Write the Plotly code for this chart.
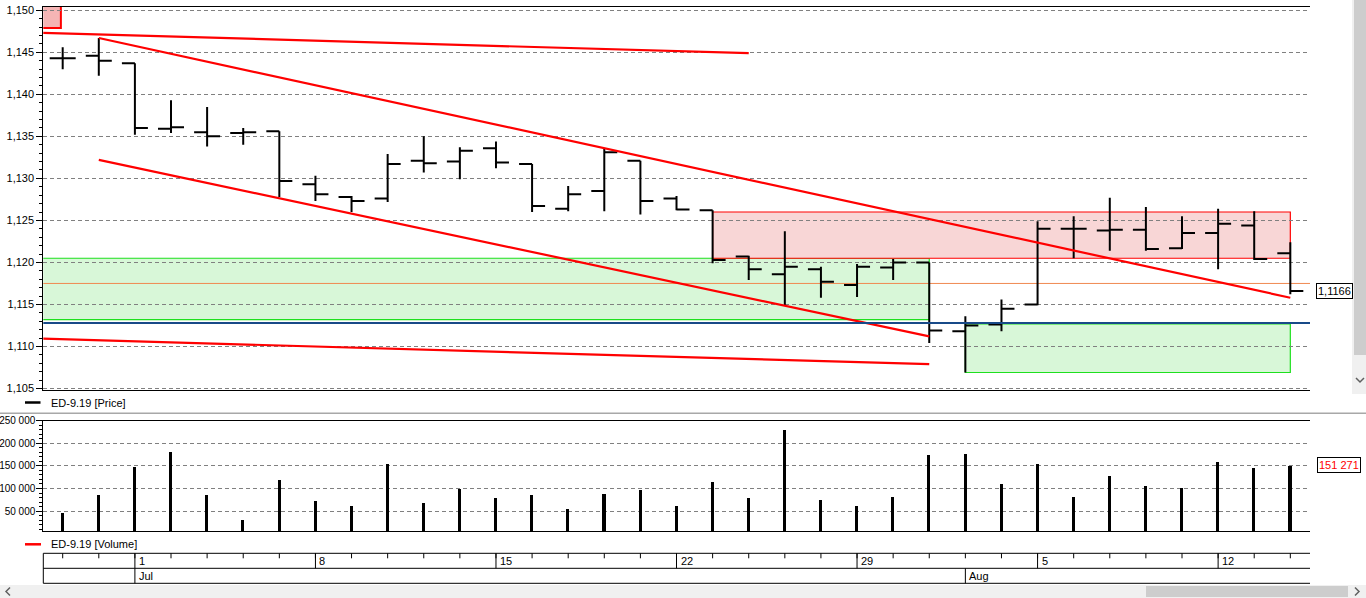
import datetime as dt
import plotly.graph_objects as go

# ---------------- data ----------------
dates = ["2019-06-27", "2019-06-28",
         "2019-07-01", "2019-07-02", "2019-07-03", "2019-07-04", "2019-07-05",
         "2019-07-08", "2019-07-09", "2019-07-10", "2019-07-11", "2019-07-12",
         "2019-07-15", "2019-07-16", "2019-07-17", "2019-07-18", "2019-07-19",
         "2019-07-22", "2019-07-23", "2019-07-24", "2019-07-25", "2019-07-26",
         "2019-07-29", "2019-07-30", "2019-07-31", "2019-08-01", "2019-08-02",
         "2019-08-05", "2019-08-06", "2019-08-07", "2019-08-08", "2019-08-09",
         "2019-08-12", "2019-08-13", "2019-08-14"]

opens = [1.1443, 1.1446, 1.1437, 1.1359, 1.1355, 1.1354, 1.1356,
         1.1293, 1.1278, 1.1276, 1.1321, 1.1320,
         1.1336, 1.1317, 1.1264, 1.1285, 1.1321,
         1.1276, 1.1262, 1.1207, 1.1186, 1.1192,
         1.1173, 1.1194, 1.1200, 1.1118, 1.1126,
         1.1150, 1.1240, 1.1238, 1.1239, 1.1217,
         1.1235, 1.1244, 1.1211]
highs = [1.1456, 1.1467, 1.1437, 1.1393, 1.1385, 1.1360, 1.1356,
         1.1303, 1.1279, 1.1329, 1.1350, 1.1337,
         1.1344, 1.1317, 1.1291, 1.1335, 1.1321,
         1.1279, 1.1262, 1.1208, 1.1237, 1.1195,
         1.1198, 1.1204, 1.1200, 1.1136, 1.1156,
         1.1249, 1.1255, 1.1277, 1.1266, 1.1255,
         1.1264, 1.1261, 1.1224]
lows = [1.1430, 1.1422, 1.1352, 1.1354, 1.1338, 1.1340, 1.1278,
        1.1273, 1.1260, 1.1272, 1.1307, 1.1299,
        1.1312, 1.1260, 1.1261, 1.1261, 1.1257,
        1.1262, 1.1199, 1.1179, 1.1149, 1.1158,
        1.1159, 1.1179, 1.1104, 1.1069, 1.1118,
        1.1149, 1.1205, 1.1214, 1.1214, 1.1216,
        1.1192, 1.1203, 1.1162]
closes = [1.1443, 1.1440, 1.1360, 1.1361, 1.1350, 1.1355, 1.1297,
          1.1281, 1.1273, 1.1317, 1.1318, 1.1333,
          1.1319, 1.1267, 1.1281, 1.1331, 1.1273,
          1.1263, 1.1203, 1.1192, 1.1195, 1.1177,
          1.1195, 1.1200, 1.1119, 1.1125, 1.1145,
          1.1240, 1.1240, 1.1239, 1.1216, 1.1235,
          1.1246, 1.1204, 1.1166]
volumes = [46000, 85600, 148200, 181400, 85600, 31000, 118800,
           73000, 61300, 154200, 67900, 99000,
           79000, 85600, 54700, 87800, 97300,
           61300, 115000, 79600, 229400, 75200,
           61300, 81800, 174800, 177000, 110600,
           154900, 81200, 127700, 105500, 101100,
           158600, 145300, 151271]

# drawn analysis objects (bar index, price)
top_line_x = [-2, 19]
top_line_y = [1.1475, 1.1449]
upper_channel_x = [1, 34]
upper_channel_y = [1.1467, 1.1158]
lower_channel_x = [1, 24]
lower_channel_y = [1.1322, 1.1112]
bottom_line_x = [-2, 24]
bottom_line_y = [1.1111, 1.1079]

green_zone_1 = [-2, 24, 1.1132, 1.1205]
green_zone_2 = [25, 34, 1.1069, 1.1127]
red_zone = [18, 34, 1.1205, 1.1260]
corner_zone = [-2, -0.05, 1.1479, 1.1530]
blue_level = 1.1128
orange_level = 1.1175

price_name = "ED-9.19 [Price]"
volume_name = "ED-9.19 [Volume]"

# ---------------- layout helpers ----------------
W, H = 1366, 598
FONT = "Liberation Sans, Arial, sans-serif"
X_LEFT, X_RIGHT = 43.3, 1310.0
P_TOP, P_BOT = 6.7, 390.0
V_TOP, V_BOT = 420.7, 531.3
XR = [-0.537, 34.545]


def px(x):
    return x / W


def py(y):
    return 1 - y / H


dts = [dt.date.fromisoformat(d) for d in dates]
xi = list(range(len(dates)))

fig = go.Figure()

fig.add_trace(go.Ohlc(
    x=xi, open=opens, high=highs, low=lows, close=closes,
    increasing=dict(line=dict(color="black", width=2)),
    decreasing=dict(line=dict(color="black", width=2)),
    tickwidth=0.36, xaxis="x", yaxis="y", hoverinfo="skip"))

for lx, ly in [(top_line_x, top_line_y), (upper_channel_x, upper_channel_y),
               (lower_channel_x, lower_channel_y), (bottom_line_x, bottom_line_y)]:
    fig.add_trace(go.Scatter(x=lx, y=ly, mode="lines",
                             line=dict(color="#ff0000", width=2.2),
                             xaxis="x", yaxis="y", hoverinfo="skip"))

fig.add_trace(go.Bar(x=xi, y=volumes, width=0.085, marker=dict(color="black", line=dict(width=0)),
                     xaxis="x2", yaxis="y2", hoverinfo="skip"))

shapes = []


def zone(z, fill, line, lw=1.2):
    shapes.append(dict(type="rect", xref="x", yref="y", x0=z[0], x1=z[1], y0=z[2], y1=z[3],
                       fillcolor=fill, line=dict(color=line, width=lw), layer="below"))


zone(green_zone_1, "#d8f7d8", "#1ee01e")
zone(green_zone_2, "#d8f7d8", "#1ee01e")
zone(red_zone, "#f8d6d6", "#ff0000")
zone(corner_zone, "#f5b5b5", "#ff0000", 2)

shapes.append(dict(type="line", xref="x", yref="y", x0=-2, x1=40, y0=orange_level, y1=orange_level,
                   line=dict(color="#f08850", width=1), layer="below"))
shapes.append(dict(type="line", xref="x", yref="y", x0=-2, x1=40, y0=blue_level, y1=blue_level,
                   line=dict(color="#184a88", width=2)))

# legend rows + separator
shapes.append(dict(type="line", xref="paper", yref="paper", x0=px(25), x1=px(40.5), y0=py(402.5), y1=py(402.5),
                   line=dict(color="black", width=2.5)))
shapes.append(dict(type="line", xref="paper", yref="paper", x0=px(25), x1=px(41), y0=py(544.3), y1=py(544.3),
                   line=dict(color="#ff0000", width=2.5)))
shapes.append(dict(type="line", xref="paper", yref="paper", x0=0, x1=1, y0=py(413.3), y1=py(413.3),
                   line=dict(color="#a8a8a8", width=1.5)))

annotations = [
    dict(text=price_name, xref="paper", yref="paper", x=px(49), y=py(402.5), xanchor="left",
         yanchor="middle", showarrow=False, font=dict(family=FONT, size=11, color="black")),
    dict(text=volume_name, xref="paper", yref="paper", x=px(49), y=py(544.3), xanchor="left",
         yanchor="middle", showarrow=False, font=dict(family=FONT, size=11, color="black")),
    dict(text=f"{closes[-1]:.4f}".replace(".", ","), xref="paper", yref="y", x=px(1316), y=closes[-1],
         xanchor="left", yanchor="middle", showarrow=False, bgcolor="white", bordercolor="black",
         borderwidth=1, borderpad=1, font=dict(family=FONT, size=11, color="black")),
    dict(text=f"{volumes[-1]:,}".replace(",", " "), xref="paper", yref="y2", x=px(1316.5), y=volumes[-1],
         xanchor="left", yanchor="middle", showarrow=False, bgcolor="white", bordercolor="black",
         borderwidth=1, borderpad=1, font=dict(family=FONT, size=11, color="#ff0000")),
]

# date table
R1, R2, R3 = 553.3, 568.3, 583.3
for yy in (R1, R2, R3):
    shapes.append(dict(type="line", xref="paper", yref="paper", x0=px(X_LEFT), x1=px(X_RIGHT),
                       y0=py(yy), y1=py(yy), line=dict(color="black", width=1)))
shapes.append(dict(type="line", xref="paper", yref="paper", x0=px(X_LEFT), x1=px(X_LEFT),
                   y0=py(R1), y1=py(R3), line=dict(color="black", width=1)))
for i, d in enumerate(dts):
    shapes.append(dict(type="line", xref="x", yref="paper", x0=i, x1=i, y0=py(R1), y1=py(R1 + 5),
                       line=dict(color="black", width=1)))
    if i > 0 and d.weekday() == 0:
        shapes.append(dict(type="line", xref="x", yref="paper", x0=i, x1=i, y0=py(R1), y1=py(R2),
                           line=dict(color="black", width=1)))
        annotations.append(dict(text=str(d.day), xref="x", yref="paper", x=i, y=py((R1 + R2) / 2),
                                xanchor="left", yanchor="middle", xshift=2, showarrow=False,
                                font=dict(family=FONT, size=11, color="black")))
    if i > 0 and d.month != dts[i - 1].month:
        shapes.append(dict(type="line", xref="x", yref="paper", x0=i, x1=i, y0=py(R2), y1=py(R3),
                           line=dict(color="black", width=1)))
        annotations.append(dict(text=d.strftime("%b"), xref="x", yref="paper", x=i, y=py((R2 + R3) / 2),
                                xanchor="left", yanchor="middle", xshift=2, showarrow=False,
                                font=dict(family=FONT, size=11, color="black")))

# scrollbars
shapes.append(dict(type="rect", xref="paper", yref="paper", x0=0, x1=1, y0=py(598), y1=py(585),
                   fillcolor="#f0f0f0", line=dict(width=0)))
shapes.append(dict(type="rect", xref="paper", yref="paper", x0=px(1146), x1=px(1348), y0=py(597), y1=py(586),
                   fillcolor="#cdcdcd", line=dict(width=0)))
shapes.append(dict(type="rect", xref="paper", yref="paper", x0=px(1352), x1=1, y0=py(394), y1=1,
                   fillcolor="#f0f0f0", line=dict(width=0)))
shapes.append(dict(type="rect", xref="paper", yref="paper", x0=px(1354), x1=1, y0=py(355), y1=1,
                   fillcolor="#cdcdcd", line=dict(width=0)))
for path in ["M {a},{b} L {c},{d} L {a},{e}".format(a=px(10), b=py(587.5), c=px(6), d=py(591.5), e=py(595.5)),
             "M {a},{b} L {c},{d} L {a},{e}".format(a=px(1355), b=py(587.5), c=px(1359), d=py(591.5), e=py(595.5)),
             "M {a},{b} L {c},{d} L {e},{b}".format(a=px(1356), b=py(378), c=px(1360), d=py(382), e=px(1364))]:
    shapes.append(dict(type="path", xref="paper", yref="paper", path=path,
                       line=dict(color="#606060", width=1.5)))

axis_font = dict(family=FONT, size=11, color="black")
common_y = dict(showline=True, linecolor="black", linewidth=1, ticks="outside", ticklen=6,
                tickcolor="black", zeroline=False, fixedrange=True, automargin=False)
common_x = dict(domain=[px(X_LEFT), px(X_RIGHT)], range=XR, showticklabels=False,
                ticks="", showgrid=False, zeroline=False, showline=True, mirror=True,
                linecolor="black", linewidth=1, automargin=False, fixedrange=True)

fig.update_layout(
    width=W, height=H, autosize=False,
    margin=dict(l=0, r=0, t=0, b=0, pad=0, autoexpand=False),
    paper_bgcolor="white", plot_bgcolor="white",
    showlegend=False, separators=", ",
    bargap=0,
    xaxis=dict(anchor="y", rangeslider=dict(visible=False), **common_x),
    yaxis=dict(domain=[py(P_BOT), py(P_TOP)], range=[1.10482, 1.15043], anchor="x", side="left",
               tickmode="linear", tick0=1.105, dtick=0.005, tickformat=".3f", tickfont=axis_font,
               showgrid=True, gridcolor="#808080", gridwidth=1, griddash="4px,3px",
               minor=dict(dtick=0.001, tick0=1.105, ticks="outside", ticklen=3, tickcolor="black",
                          showgrid=False),
               **common_y),
    yaxis3=dict(overlaying="y", side="right", anchor="x", range=[1.10482, 1.15043],
                tickmode="linear", tick0=1.105, dtick=0.005, tickformat=".3f", showgrid=False,
                tickfont=axis_font,
                minor=dict(dtick=0.001, tick0=1.105, ticks="outside", ticklen=3, tickcolor="black",
                           showgrid=False),
                **common_y),
    xaxis2=dict(anchor="y2", **common_x),
    yaxis2=dict(domain=[py(V_BOT), py(V_TOP)], range=[5300, 250050], anchor="x2", side="left",
                tickmode="linear", tick0=0, dtick=50000, tickformat=",d",
                tickfont=dict(family=FONT, size=10, color="black"), ticklabelstandoff=-1,
                showgrid=True, gridcolor="#808080", gridwidth=1, griddash="4px,3px",
                minor=dict(dtick=10000, tick0=0, ticks="outside", ticklen=3, tickcolor="black",
                           showgrid=False),
                **common_y),
    yaxis4=dict(overlaying="y2", side="right", anchor="x2", range=[5300, 250050],
                tickmode="linear", tick0=0, dtick=50000, tickformat=",d", showgrid=False,
                tickfont=axis_font,
                minor=dict(dtick=10000, tick0=0, ticks="outside", ticklen=3, tickcolor="black",
                           showgrid=False),
                **common_y),
    shapes=shapes,
    annotations=annotations,
)

fig.write_html("out.html")
